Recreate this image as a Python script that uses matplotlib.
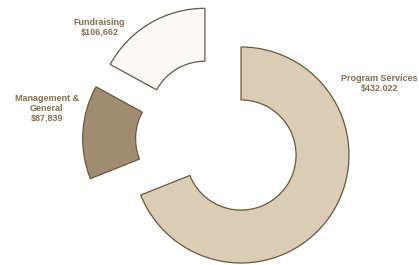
import numpy as np
import matplotlib
matplotlib.use("Agg")
import matplotlib.pyplot as plt

# data
labels = ["Program Services", "Management &\nGeneral", "Fundraising"]
amounts = [432022, 87839, 106662]
amount_text = ["$432.022", "$87,839", "$106,662"]

colors = ["#dbccb6", "#a08d71", "#fcfaf5"]
edge = "#6a583f"
txt_color = "#85704f"

plt.rcParams['font.family'] = ['Liberation Sans', 'DejaVu Sans']

fig = plt.figure(figsize=(4.19, 2.65), dpi=100)
ax = fig.add_axes([0, 0, 1, 1])

wedges, _ = ax.pie(amounts, colors=colors, startangle=90, counterclock=False,
                   radius=1.0, wedgeprops=dict(width=0.49, edgecolor=edge, linewidth=0.9))

#pull the two small slices out (distance, direction in degrees)
offsets = [(0.0, 0.0), (0.49, 162.0), (0.49, 133.0)]
for w, (d, a) in zip(wedges, offsets):
    t = np.deg2rad(a)
    w.set_center((d * np.cos(t), d * np.sin(t)))

#label positions
label_pos = [(1.28, 0.66), (-1.80, 0.43), (-1.31, 1.18)]
for lab, amt, (x, y) in zip(labels, amount_text, label_pos):
    ax.text(x, y, lab + "\n" + amt, ha='center', va='center', fontsize=6.5,
            fontweight='bold', color=txt_color, linespacing=1.1)

ax.set_xlim(-241 / 108, (419 - 241) / 108)
ax.set_ylim(-(265 - 155) / 108, 155 / 108)
ax.set_aspect('equal')
ax.axis('off')

fig.savefig("out.png", dpi=100)
